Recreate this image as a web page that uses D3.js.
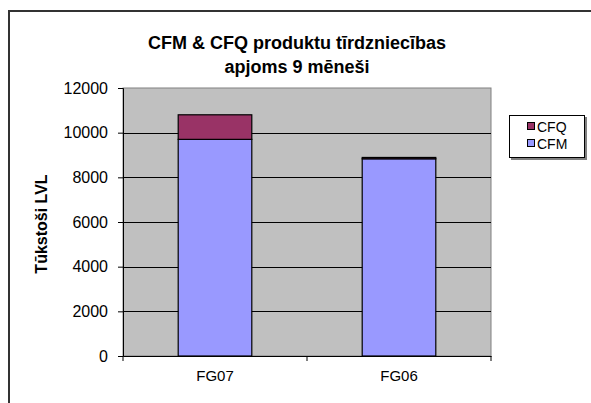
<!DOCTYPE html>
<html>
<head>
<meta charset="utf-8">
<script src="https://cdn.jsdelivr.net/npm/d3@7.9.0/dist/d3.min.js"></script>
<style>
  html, body { margin: 0; padding: 0; background: #fff; }
  svg { display: block; font-family: "Liberation Sans", Arial, sans-serif; }
</style>
</head>
<body>
<svg id="chart" width="591" height="403"></svg>
<script>
// Data
const categories = ['FG07', 'FG06'];
const seriesNames = ['CFM', 'CFQ'];
const cfmValues = [9700, 8830];
const cfqValues = [1100, 60];
const yTicks = [0, 2000, 4000, 6000, 8000, 10000, 12000];

const colors = { CFM: '#9999FF', CFQ: '#993366' };
const font = '"Liberation Sans", Arial, sans-serif';

const svg = d3.select('#chart');

// outer chart border (runs off the right/bottom edge)
svg.append('rect')
  .attr('x', 9).attr('y', 11)
  .attr('width', 700).attr('height', 500)
  .attr('fill', 'none').attr('stroke', '#333').attr('stroke-width', 2);

// plot area
const plot = { left: 123, right: 491, top: 88, bottom: 356 };

const x = d3.scaleBand()
  .domain(categories)
  .range([plot.left, plot.right])
  .paddingInner(0.6)
  .paddingOuter(0.3);

const y = d3.scaleLinear()
  .domain([0, 12000])
  .range([plot.bottom, plot.top]);

svg.append('rect')
  .attr('x', plot.left).attr('y', plot.top)
  .attr('width', plot.right - plot.left).attr('height', plot.bottom - plot.top)
  .attr('fill', '#C0C0C0').attr('stroke', '#808080').attr('stroke-width', 1);

// gridlines
svg.append('g')
  .selectAll('line')
  .data(yTicks.filter(d => d > 0 && d < 12000))
  .join('line')
  .attr('x1', plot.left).attr('x2', plot.right)
  .attr('y1', d => Math.round(y(d)) + 0.5).attr('y2', d => Math.round(y(d)) + 0.5)
  .attr('stroke', '#000').attr('stroke-width', 1);

// stacked bars
const rows = categories.map((c, i) => ({ cat: c, CFM: cfmValues[i], CFQ: cfqValues[i] }));
const stacked = d3.stack().keys(seriesNames)(rows);

svg.append('g')
  .selectAll('g')
  .data(stacked)
  .join('g')
  .attr('fill', d => colors[d.key])
  .selectAll('rect')
  .data(d => d)
  .join('rect')
  .attr('x', d => x(d.data.cat))
  .attr('y', d => y(d[1]))
  .attr('width', x.bandwidth())
  .attr('height', d => y(d[0]) - y(d[1]))
  .attr('stroke', '#000').attr('stroke-width', 1.2);

// y axis
const yAxis = svg.append('g')
  .attr('transform', `translate(${plot.left},0)`)
  .call(d3.axisLeft(y).tickValues(yTicks).tickSize(5).tickPadding(10).tickFormat(d3.format('d')));
yAxis.select('.domain').attr('stroke', '#000');
yAxis.selectAll('.tick line').attr('stroke', '#000');
yAxis.selectAll('text').attr('font-size', 16).attr('fill', '#000').attr('font-family', font);

// x axis
const xAxis = svg.append('g')
  .attr('transform', `translate(0,${plot.bottom})`)
  .call(d3.axisBottom(x).tickSize(0).tickPadding(14));
xAxis.select('.domain').attr('stroke', '#000');
xAxis.selectAll('text').attr('font-size', 15).attr('fill', '#000').attr('font-family', font);

// category separators below the axis
const sepX = i => plot.left + i * (plot.right - plot.left) / categories.length;
svg.append('g')
  .selectAll('line')
  .data(d3.range(categories.length + 1))
  .join('line')
  .attr('x1', sepX).attr('x2', sepX)
  .attr('y1', plot.bottom).attr('y2', plot.bottom + 5)
  .attr('stroke', '#000');

// title
const title = svg.append('text')
  .attr('x', 297).attr('y', 49)
  .attr('text-anchor', 'middle')
  .attr('font-size', 18).attr('font-weight', 'bold');
title.append('tspan').attr('x', 297).text('CFM & CFQ produktu tīrdzniecības');
title.append('tspan').attr('x', 297).attr('dy', 24).text('apjoms 9 mēneši');

// y label
svg.append('text')
  .attr('transform', 'translate(47,224) rotate(-90)')
  .attr('text-anchor', 'middle')
  .attr('font-size', 16).attr('font-weight', 'bold')
  .text('Tūkstoši LVL');

// legend
const lg = svg.append('g');
lg.append('rect')
  .attr('x', 511).attr('y', 117).attr('width', 76).attr('height', 43)
  .attr('fill', '#808080');
lg.append('rect')
  .attr('x', 509.5).attr('y', 115.5).attr('width', 75).attr('height', 42)
  .attr('fill', '#fff').attr('stroke', '#000');
const legendItems = ['CFQ', 'CFM'];
lg.selectAll('g.item')
  .data(legendItems)
  .join('g')
  .attr('class', 'item')
  .attr('transform', (d, i) => `translate(528,${127 + i * 17})`)
  .each(function(d) {
    const g = d3.select(this);
    g.append('rect').attr('x', -0.5).attr('y', -4.5).attr('width', 7).attr('height', 7)
      .attr('fill', colors[d]).attr('stroke', '#000');
    g.append('text').attr('x', 9).attr('y', 5).attr('font-size', 14).text(d);
  });
</script>
</body>
</html>
